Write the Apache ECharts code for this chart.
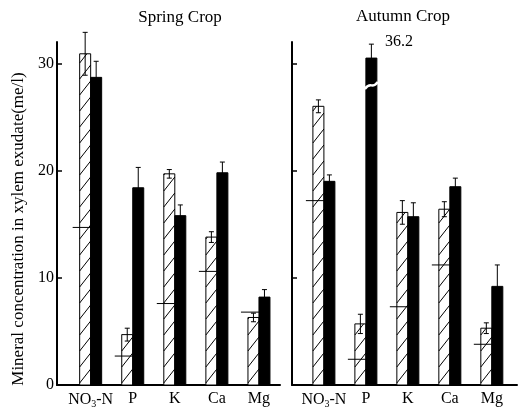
<!DOCTYPE html>
<html>
<head>
<meta charset="utf-8">
<script src="https://cdn.jsdelivr.net/npm/echarts@6/dist/echarts.min.js"></script>
<style>
  html, body { margin: 0; padding: 0; background: #fff; }
  #main { width: 519px; height: 413px; }
</style>
</head>
<body>
<div id="main"></div>
<script>
const minerals = ['NO3-N', 'P', 'K', 'Ca', 'Mg'];
const yTicks = [0, 10, 20, 30];

// spring crop
const springHatch = [30.9, 4.7, 19.7, 13.8, 6.3];
const springHatchErr = [2.0, 0.6, 0.4, 0.5, 0.4];
const springBlack = [28.7, 18.4, 15.8, 19.8, 8.2];
const springBlackErr = [1.5, 1.9, 1.0, 1.0, 0.7];
const springMark = [14.7, 2.7, 7.6, 10.6, 6.8];

// autumn crop
const autumnHatch = [26.0, 5.7, 16.1, 16.4, 5.3];
const autumnHatchErr = [0.6, 0.9, 1.1, 0.7, 0.5];
const autumnBlack = [19.0, 36.2, 15.7, 18.5, 9.2];
const autumnBlackErr = [0.6, 1.3, 1.3, 0.8, 2.0];
const autumnMark = [17.2, 2.4, 7.3, 11.2, 3.8];

const breakTop = 30.5;   // bars taller than the axis are cut here
const breakAt = 28;      // where the white break is drawn

const FONT = 'Liberation Serif';
const BAR_W = 11;

function rows(h, he, b, be, m) {
  return minerals.map((_, i) => [i, h[i], he[i], b[i], be[i], m[i]]);
}

// diagonal "/" hatch inside a rect, clipped by hand
function hatch(x0, x1, yt, yb) {
  const P = 16, R = 14, out = [];
  for (let ys = yb + R; ys > yt; ys -= P) {
    const tmin = Math.max(0, (ys - yb) / R);
    const tmax = Math.min(1, (ys - yt) / R);
    if (tmin >= tmax) continue;
    out.push({
      type: 'line',
      shape: {
        x1: x0 + (x1 - x0) * tmin, y1: ys - R * tmin,
        x2: x0 + (x1 - x0) * tmax, y2: ys - R * tmax
      },
      style: { stroke: '#000', lineWidth: 1 }
    });
  }
  return out;
}

function errBar(api, cx, v, e) {
  const top = api.coord([0, v + e])[1];
  const bot = api.coord([0, v - e])[1];
  const s = { stroke: '#000', lineWidth: 1 };
  return [
    { type: 'line', shape: { x1: cx, y1: top, x2: cx, y2: bot }, style: s },
    { type: 'line', shape: { x1: cx - 2.5, y1: top, x2: cx + 2.5, y2: top }, style: s },
    { type: 'line', shape: { x1: cx - 2.5, y1: bot, x2: cx + 2.5, y2: bot }, style: s }
  ];
}

function renderItem(params, api) {
  const base = api.coord([api.value(0), 0]);
  const cx = base[0], y0 = base[1];
  const hv = api.value(1), he = api.value(2);
  let bv = api.value(3);
  const be = api.value(4), mv = api.value(5);
  const children = [];

  // hatched bar
  const hy = api.coord([0, hv])[1];
  children.push({
    type: 'rect',
    shape: { x: cx - BAR_W, y: hy, width: BAR_W, height: y0 - hy },
    style: { fill: '#fff', stroke: '#000', lineWidth: 1 }
  });
  children.push(...hatch(cx - BAR_W, cx, hy, y0));
  children.push(...errBar(api, cx - BAR_W / 2, hv, he));

  // black bar
  const broken = bv > breakTop;
  const real = bv;
  if (broken) bv = breakTop;
  const by = api.coord([0, bv])[1];
  children.push({
    type: 'rect',
    shape: { x: cx, y: by, width: BAR_W, height: y0 - by },
    style: { fill: '#000', stroke: '#000', lineWidth: 1 }
  });
  children.push(...errBar(api, cx + BAR_W / 2, bv, be));

  if (broken) {
    const yb = api.coord([0, breakAt])[1];
    children.push({
      type: 'bezierCurve',
      shape: {
        x1: cx - 1, y1: yb + 4, x2: cx + BAR_W + 1, y2: yb - 3,
        cpx1: cx + 5, cpy1: yb - 4, cpx2: cx + 6, cpy2: yb + 5
      },
      style: { stroke: '#fff', lineWidth: 2.5, fill: null }
    });
    children.push({
      type: 'text',
      x: cx + BAR_W + 8,
      y: api.coord([0, bv + be])[1] - 2,
      style: {
        text: String(real), font: '16px "' + FONT + '"', fill: '#000',
        align: 'left', verticalAlign: 'middle'
      }
    });
  }

  // reference level mark
  const my = api.coord([0, mv])[1];
  children.push({
    type: 'line',
    shape: { x1: cx - 18, y1: my, x2: cx, y2: my },
    style: { stroke: '#000', lineWidth: 1 }
  });

  return { type: 'group', children };
}

function xLabel(v) {
  const name = minerals[Math.round(v)];
  if (name === 'NO3-N') return '{n|NO}{s|3}{n|-N}';
  return '{n|' + name + '}';
}

function xAxis(gridIndex, min, max) {
  return {
    type: 'value', gridIndex, min, max,
    axisLine: { onZero: false, lineStyle: { color: '#000', width: 2 } },
    axisTick: { show: false },
    splitLine: { show: false },
    axisLabel: {
      customValues: [0, 1, 2, 3, 4],
      formatter: xLabel,
      margin: 6,
      rich: {
        n: { fontFamily: FONT, fontSize: 16, color: '#000' },
        s: { fontFamily: FONT, fontSize: 10, color: '#000', padding: [8, 0, 0, 0] }
      }
    }
  };
}

function yAxis(gridIndex, showLabels) {
  return {
    type: 'value', gridIndex, min: 0, max: 32,
    axisLine: { show: true, onZero: false, lineStyle: { color: '#000', width: 2 } },
    axisTick: { show: true, inside: true, length: 5, customValues: yTicks, lineStyle: { color: '#000', width: 1.5 } },
    splitLine: { show: false },
    axisLabel: {
      show: showLabels, customValues: yTicks, margin: 3,
      fontFamily: FONT, fontSize: 16, color: '#000'
    }
  };
}

const myChart = echarts.init(document.getElementById('main'));
myChart.setOption({
  animation: false,
  grid: [
    { left: 57, top: 42, width: 223, height: 343 },
    { left: 292, top: 42, width: 225, height: 343 }
  ],
  xAxis: [xAxis(0, -0.8, 4.5), xAxis(1, -0.76, 4.6)],
  yAxis: [yAxis(0, true), yAxis(1, false)],
  graphic: [
    {
      type: 'text', x: 180, y: 18,
      style: { text: 'Spring Crop', font: '17px "' + FONT + '"', fill: '#000', align: 'center', verticalAlign: 'middle' }
    },
    {
      type: 'text', x: 403, y: 17,
      style: { text: 'Autumn Crop', font: '17px "' + FONT + '"', fill: '#000', align: 'center', verticalAlign: 'middle' }
    },
    {
      type: 'text', x: 19, y: 229, rotation: Math.PI / 2,
      style: {
        text: 'Mineral concentration in xylem exudate(me/l)',
        font: '17px "' + FONT + '"', fill: '#000', align: 'center', verticalAlign: 'middle'
      }
    }
  ],
  series: [
    {
      name: 'Spring Crop', type: 'custom', xAxisIndex: 0, yAxisIndex: 0,
      renderItem, clip: false,
      data: rows(springHatch, springHatchErr, springBlack, springBlackErr, springMark)
    },
    {
      name: 'Autumn Crop', type: 'custom', xAxisIndex: 1, yAxisIndex: 1,
      renderItem, clip: false,
      data: rows(autumnHatch, autumnHatchErr, autumnBlack, autumnBlackErr, autumnMark)
    }
  ]
});
</script>
</body>
</html>
